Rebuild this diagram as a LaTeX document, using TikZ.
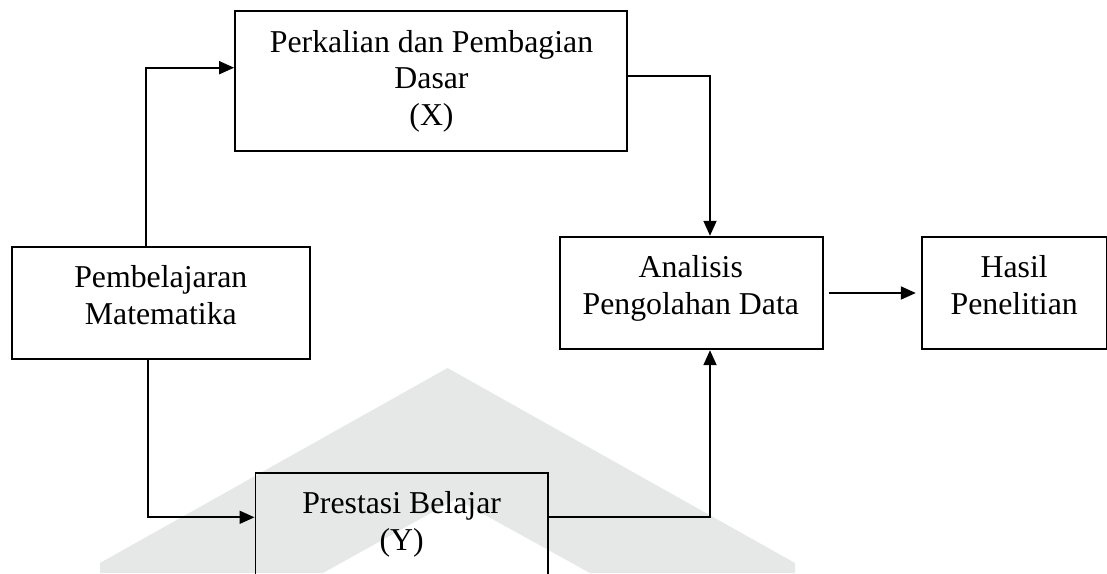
\documentclass[tikz,border=0pt]{standalone}
\usepackage{fontspec}
\setmainfont{Liberation Serif}
\usetikzlibrary{arrows.meta}
\definecolor{wmgrey}{RGB}{230,232,232}
\tikzset{
  boxnode/.style={draw=black, line width=1.8pt, rectangle, inner sep=0pt},
  txt/.style={anchor=north, align=center, inner sep=0pt, font=\fontsize{31.8pt}{36.6pt}\selectfont},
  arr/.style={line width=1.8pt, -{Triangle[length=15pt, width=13pt]}},
}
\begin{document}
\begin{tikzpicture}[x=1pt, y=-1pt]
\clip (0,0) rectangle (1107,573);
\fill[white] (0,0) rectangle (1107,573);
% watermark chevron
\fill[wmgrey] (100,573) -- (100,563) -- (447.5,368) -- (795,563) -- (795,573)
  -- (590,573) -- (456,499) -- (323,573) -- cycle;
% boxes
\node[boxnode, minimum width=392.3pt, minimum height=140pt] (xb) at (431.15,80.7) {};
\node[boxnode, minimum width=298.3pt, minimum height=112.6pt] (pm) at (160.85,303) {};
\node[boxnode, minimum width=262.7pt, minimum height=112.6pt] (an) at (691.35,293) {};
\node[boxnode, minimum width=185pt, minimum height=112.6pt] (ha) at (1014.2,293) {};
\node[boxnode, minimum width=292.3pt, minimum height=112.6pt] (ps) at (401.55,529) {};
% texts
\node[txt] (xt) at (431.5,30) {Perkalian dan Pembagian\\Dasar\\(X)};
\node[txt] (pt) at (160.8,265.3) {Pembelajaran\\Matematika};
\node[txt] (at) at (690.8,255.6) {Analisis\\Pengolahan Data};
\node[txt] (ht) at (1014.2,255.6) {Hasil\\Penelitian};
\node[txt] (st) at (401.6,491.6) {Prestasi Belajar\\(Y)};
% connectors
\draw[arr] ([xshift=-14.85pt]pm.north) |- ([yshift=13pt]xb.west);
\draw[arr] ([xshift=-13.15pt]pm.south) |- ([yshift=11.7pt]ps.west);
\draw[arr] ([yshift=5pt]xb.east) -| ([xshift=18.65pt]an.north);
\draw[arr] ([yshift=11.7pt]ps.east) -| ([xshift=18.65pt]an.south);
\draw[arr, shorten <=5pt, shorten >=5pt] (an.east) -- (ha.west);
\end{tikzpicture}
\end{document}
